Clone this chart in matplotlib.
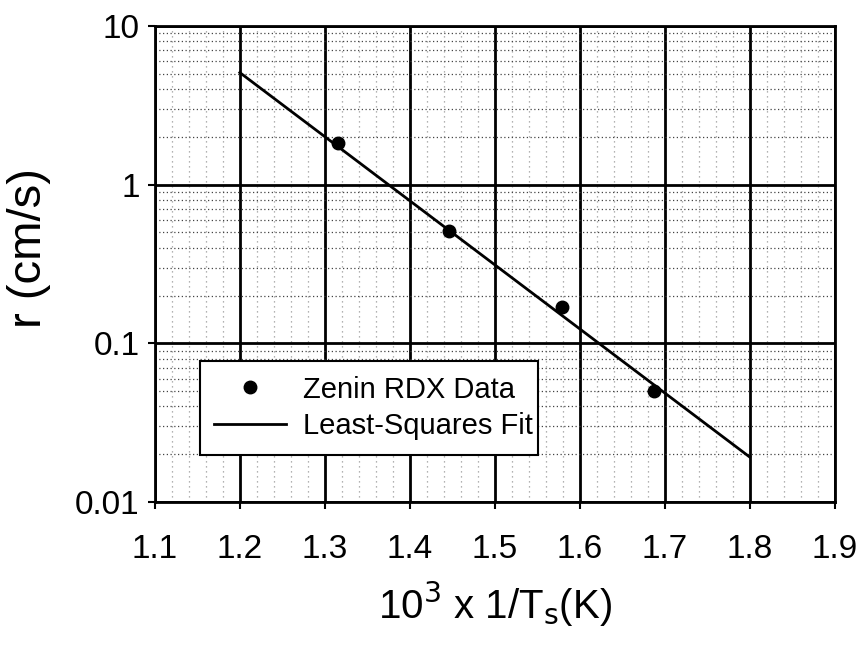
import numpy as np
import matplotlib
matplotlib.use('Agg')
import matplotlib.pyplot as plt
from matplotlib.ticker import MultipleLocator, LogLocator, NullFormatter, FixedFormatter, FixedLocator

plt.rcParams['font.family'] = ['Liberation Sans', 'DejaVu Sans']

# 数据
data_x = [1.316, 1.446, 1.579, 1.687]
data_r = [1.83, 0.51, 0.169, 0.050]
fit_x = [1.2, 1.8]
fit_r = [5.08, 0.0192]

x_ticks = [1.1, 1.2, 1.3, 1.4, 1.5, 1.6, 1.7, 1.8, 1.9]
y_ticks = [0.01, 0.1, 1, 10]
y_labels = ['0.01', '0.1', '1', '10']

fig = plt.figure(figsize=(8.65, 6.46), dpi=100)
ax = fig.add_axes([0.179, 0.2229, 0.786, 0.737])

ax.set_yscale('log')
ax.set_xlim(1.1, 1.9)
ax.set_ylim(0.01, 10)

ax.xaxis.set_major_locator(FixedLocator(x_ticks))
ax.set_xticklabels(['%.1f' % v for v in x_ticks])
ax.xaxis.set_minor_locator(MultipleLocator(0.02))
ax.yaxis.set_major_locator(FixedLocator(y_ticks))
ax.yaxis.set_major_formatter(FixedFormatter(y_labels))
ax.yaxis.set_minor_locator(LogLocator(base=10, subs=np.arange(2, 10)))
ax.yaxis.set_minor_formatter(NullFormatter())

# 网格
ax.grid(which='major', color='black', linewidth=2, linestyle='-')
ax.xaxis.grid(which='minor', color='#999999', linewidth=0.9, linestyle=(0, (1, 3)))
ax.yaxis.grid(which='minor', color='#444444', linewidth=0.9, linestyle=(0, (1, 2)))
ax.set_axisbelow(True)

ax.plot(data_x, data_r, 'o', color='black', markersize=9, label='Zenin RDX Data', zorder=3)
ax.plot(fit_x, fit_r, '-', color='black', linewidth=2, label='Least-Squares Fit', zorder=3)

for s in ax.spines.values():
    s.set_linewidth(2)
ax.tick_params(which='major', direction='out', length=5, width=1.5, labelsize=24)
ax.tick_params(axis='y', pad=6)
ax.tick_params(axis='x', pad=18)
ax.tick_params(which='minor', length=0)

ax.set_ylabel('r (cm/s)', fontsize=34)
ax.yaxis.set_label_coords(-0.152, 0.534)
ax.set_xlabel(r'10$^3$ x 1/T$_\mathrm{s}$(K)', fontsize=29, labelpad=11)

leg = ax.legend(loc='lower left', bbox_to_anchor=(0.066, 0.099, 0.497, 0.204), mode='expand',
                fontsize=21, frameon=True, fancybox=False, edgecolor='black',
                handlelength=2.45, borderpad=0.5, labelspacing=0.3, handletextpad=0.6,
                borderaxespad=0)
leg.get_frame().set_linewidth(1.5)
leg.get_frame().set_alpha(1)

fig.savefig('out.png', dpi=100)
